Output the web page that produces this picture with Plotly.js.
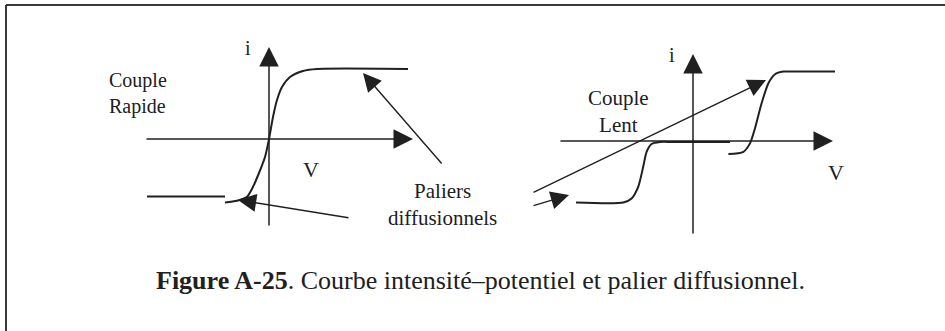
<!DOCTYPE html>
<html>
<head>
<meta charset="utf-8">
<script src="https://cdn.plot.ly/plotly-3.0.1.min.js"></script>
<style>
  html, body { margin: 0; padding: 0; background: #fff; }
  #plot { width: 945px; height: 331px; }
</style>
</head>
<body>
<div id="plot"></div>
<script>
// Couple rapide (left sketch) : one wave through the origin
const rapideV = [-2.2, -1.6, -1.1, -0.8, -0.5, -0.2, 0, 0.2, 0.4, 0.65, 1.05, 1.7, 2.4, 6.95];
const rapideI = [-3.17, -3.09, -2.89, -2.39, -1.7, -0.9, 0, 1.1, 1.95, 2.6, 3.1, 3.4, 3.5, 3.5];
const rapidePalierV = [-6.1, -2.2];
const rapidePalierI = [-2.88, -2.88];

// Couple lent (right sketch) : cathodic and anodic waves split apart
const lentCathV = [-5.85, -3.49, -3.07, -2.74, -2.49, -2.32, -2.07, -1.65, -1.0, 1.85];
const lentCathI = [-3.07, -3.07, -2.87, -2.29, -1.29, -0.54, -0.15, -0.05, -0.05, -0.05];
const lentAnodV = [1.77, 2.52, 2.85, 3.1, 3.43, 3.77, 4.1, 4.52, 5.35, 7.1];
const lentAnodI = [-0.65, -0.54, -0.12, 0.64, 1.89, 2.89, 3.34, 3.47, 3.47, 3.47];

// axis arrows (V from/to, i from/to)
const leftAxisV = [-6.2, 7.2];
const leftAxisI = [-4.4, 4.6];
const rightAxisV = [-6.7, 7.0];
const rightAxisI = [-4.7, 4.35];

// pointer arrows to the diffusion plateaus [V, i]
const leftPointerTail = [[8.7, -1.3], [4.05, -3.95]];
const leftPointerTip = [[4.7, 3.3], [-1.55, -3.05]];
const rightPointerTail = [[-8.05, -2.6], [-8.05, -3.25]];
const rightPointerTip = [[3.65, 3.05], [-6.2, -2.7]];

const W = 945, H = 331;
const ink = '#202020';
const serif = 'Liberation Serif, Times New Roman, Times, serif';
const px = x => x / W;
const py = y => 1 - y / H;

function curve(xs, ys, xa, ya) {
    return {
        x: xs, y: ys, xaxis: xa, yaxis: ya,
        type: 'scatter', mode: 'lines', hoverinfo: 'skip',
        line: { color: ink, width: 2, shape: 'spline', smoothing: 0.7 }
    };
}

function arrow(tail, tip, xr, yr, width) {
    return {
        x: tip[0], y: tip[1], ax: tail[0], ay: tail[1],
        xref: xr, yref: yr, axref: xr, ayref: yr,
        text: '', showarrow: true, arrowhead: 2, arrowsize: 2.6,
        arrowwidth: width || 1.5, arrowcolor: ink, standoff: 0
    };
}

function label(text, x, y, size, xanchor, align) {
    return {
        text: text, x: px(x), y: py(y), xref: 'paper', yref: 'paper',
        xanchor: xanchor || 'center', yanchor: 'middle', align: align || 'center',
        showarrow: false, font: { family: serif, size: size, color: ink }
    };
}

const traces = [
    curve(rapideV, rapideI, 'x', 'y'),
    curve(rapidePalierV, rapidePalierI, 'x', 'y'),
    curve(lentCathV, lentCathI, 'x2', 'y2'),
    curve(lentAnodV, lentAnodI, 'x2', 'y2')
];

const annotations = [
    arrow([leftAxisV[0], 0], [leftAxisV[1], 0], 'x', 'y'),
    arrow([0, leftAxisI[0]], [0, leftAxisI[1]], 'x', 'y'),
    arrow([rightAxisV[0], 0], [rightAxisV[1], 0], 'x2', 'y2'),
    arrow([0, rightAxisI[0]], [0, rightAxisI[1]], 'x2', 'y2')
];
leftPointerTail.forEach((t, k) => annotations.push(arrow(t, leftPointerTip[k], 'x', 'y', 1.4)));
rightPointerTail.forEach((t, k) => annotations.push(arrow(t, rightPointerTip[k], 'x2', 'y2', 1.4)));

annotations.push(
    label('i', 248, 48, 20),
    label('V', 311, 169, 22),
    label('Couple<br>Rapide', 107, 93, 20, 'left', 'left'),
    label('Paliers<br>diffusionnels', 442, 204, 21),
    label('i', 672, 55, 20),
    label('V', 836, 172, 22),
    label('Couple<br>Lent', 618, 111, 21),
    label('<b>Figure A-25</b>. Courbe intensité–potentiel et palier diffusionnel.', 480, 280, 26)
);

const hidden = { visible: false, fixedrange: true };
const layout = {
    width: W, height: H,
    margin: { l: 0, r: 0, t: 0, b: 0 },
    paper_bgcolor: '#fff', plot_bgcolor: 'rgba(0,0,0,0)',
    showlegend: false, hovermode: false,
    xaxis: Object.assign({ range: [-8, 10], domain: [px(109), px(469)], anchor: 'y' }, hidden),
    yaxis: Object.assign({ range: [-5, 5], domain: [py(239), py(39)], anchor: 'x' }, hidden),
    xaxis2: Object.assign({ range: [-9, 10], domain: [px(513), px(893)], anchor: 'y2' }, hidden),
    yaxis2: Object.assign({ range: [-5, 5], domain: [py(241), py(41)], anchor: 'x2' }, hidden),
    annotations: annotations,
    shapes: [
        { type: 'line', xref: 'paper', yref: 'paper', x0: px(6), x1: 1, y0: py(5), y1: py(5), line: { color: '#3a3a3a', width: 2 } },
        { type: 'line', xref: 'paper', yref: 'paper', x0: px(6), x1: px(6), y0: py(5), y1: 0, line: { color: '#3a3a3a', width: 2 } }
    ]
};

Plotly.newPlot('plot', traces, layout, { staticPlot: true, displayModeBar: false });
</script>
</body>
</html>
